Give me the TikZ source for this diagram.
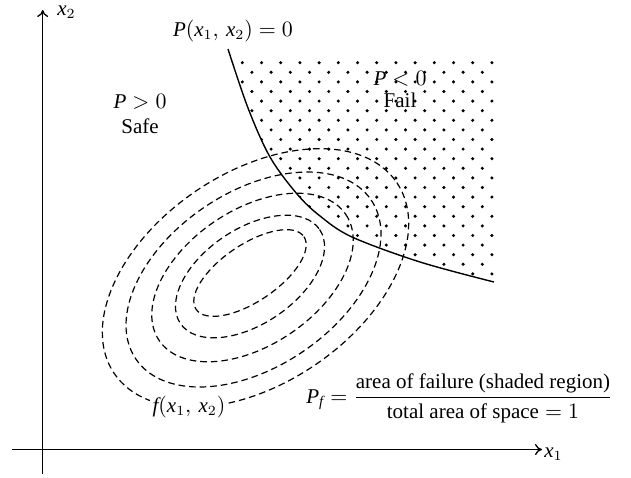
\documentclass[tikz,border=0pt]{standalone}
\usepackage{amsmath}
\usepackage{fontspec}
\setmainfont{Liberation Serif}
\usetikzlibrary{arrows.meta}
\begin{document}
\begin{tikzpicture}[x=0.5pt,y=-0.5pt,
  axis/.style={line width=0.65pt,-{To[length=3.5pt,width=5.5pt]}},
  contour/.style={line width=0.6pt,dash pattern=on 3.3pt off 2pt},
  limit/.style={line width=0.7pt},
  lbl/.style={inner sep=0pt,font=\fontsize{10.5}{12.5}\selectfont}]
\useasboundingbox (0,0) rectangle (631,477);

% dotted failure region
\begin{scope}
  \clip (0,58) rectangle (496,300);
  \clip plot[smooth,tension=0.55] coordinates {(228,49) (248,108) (270,157) (297,194) (320,216) (352,237) (420,262) (494,282)}
        -- (496,283) -- (496,20) -- (228,20) -- cycle;
  \foreach \k in {0,...,23}{
    \pgfmathsetmacro\off{mod(\k,2)*9.6}
    \foreach \j in {-1,...,14}
      \fill ({242.3+\off+19.2*\j},{62.7+9.6*\k}) circle[radius=0.85pt];
  }
\end{scope}

% contours of f(x1,x2)
\draw[contour, rotate around={34:(250,273)}] (250,273) ellipse [x radius=65, y radius=28.5];
\draw[contour, rotate around={34:(250,276.5)}] (250,276.5) ellipse [x radius=84, y radius=47.5];
\draw[contour, rotate around={34:(252.5,277.5)}] (252.5,277.5) ellipse [x radius=112.6, y radius=67.6];
\draw[contour, rotate around={34:(253.5,279.5)}] (253.5,279.5) ellipse [x radius=142, y radius=87.4];
\draw[contour, rotate around={34:(255.5,278)}] (255.5,278) ellipse [x radius=170.5, y radius=105.4];

% limit state curve
\draw[limit] plot[smooth,tension=0.55] coordinates {(228,49) (248,108) (270,157) (297,194) (320,216) (352,237) (420,262) (494,282)};

% axes
\coordinate (xs) at (12,449.5);
\coordinate (xe) at (542,449.5);
\coordinate (ys) at (42.7,474);
\coordinate (ye) at (42.7,10);
\draw[axis] (xs) -- (xe);
\draw[axis] (ys) -- (ye);
\node[lbl, anchor=base west] (x1lbl) at (544,457) {$\mathit{x}_1$};
\node[lbl, anchor=base west] (x2lbl) at (57,15) {$\mathit{x}_2$};

% labels
\node[lbl, anchor=base] (plim) at (233,36) {$\mathit{P}(\mathit{x}_1,\,\mathit{x}_2) = 0$};
\node[lbl, anchor=base, align=center] (safe) at (140,133) {$\mathit{P} > 0$\\Safe};
\node[lbl, anchor=base, align=center, font=\fontsize{10.5}{11}\selectfont] (fail) at (400,107) {$\mathit{P} < 0$\\Fail};
\node[lbl, anchor=base, fill=white, inner sep=1.5pt] (fx) at (189,412) {$\mathit{f}(\mathit{x}_1,\,\mathit{x}_2)$};
\node[lbl, anchor=base west] (pf) at (306,403) {$\mathit{P}_{\mathit{f}} = \dfrac{\text{area of failure (shaded region)}}{\text{total area of space} = 1}$};
\end{tikzpicture}
\end{document}
